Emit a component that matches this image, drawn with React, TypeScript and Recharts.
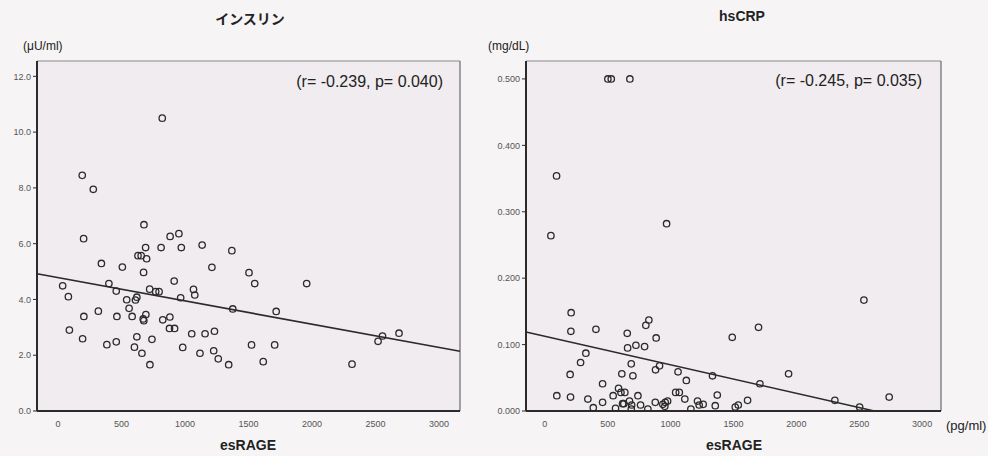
import {
  ScatterChart,
  Scatter,
  XAxis,
  YAxis,
  CartesianGrid,
  ReferenceLine,
} from "recharts";

// esRAGE (pg/ml) vs insulin (μU/ml)
const insulinEsRage = [
  202, 342, 507, 630, 655, 698, 690, 674, 812, 883, 952, 971, 1135, 1212, 1369,
  1504, 1549, 1958, 37, 82, 401, 459, 541, 621, 610, 722, 769, 796, 915, 966,
  1067, 1077, 1376, 1718, 2520, 2555, 2685, 318, 204, 90, 194, 464, 560, 584,
  692, 671, 676, 825, 881, 878, 918, 385, 459, 621, 602, 661, 740, 724, 982,
  1053, 1158, 1232, 1118, 1226, 1262, 1344, 1524, 1706, 1616, 2315, 191, 278,
  821, 677,
];
const insulinValues = [
  6.18, 5.29, 5.16, 5.57, 5.57, 5.46, 5.86, 4.97, 5.86, 6.26, 6.36, 5.86, 5.95,
  5.15, 5.75, 4.96, 4.57, 4.57, 4.49, 4.1, 4.57, 4.3, 3.99, 4.08, 3.98, 4.37,
  4.28, 4.28, 4.66, 4.06, 4.36, 4.16, 3.66, 3.57, 2.5, 2.69, 2.79, 3.58, 3.39,
  2.9, 2.59, 3.39, 3.68, 3.39, 3.46, 3.3, 3.24, 3.27, 3.37, 2.96, 2.96, 2.38,
  2.48, 2.66, 2.29, 2.07, 2.57, 1.66, 2.28, 2.77, 2.77, 2.86, 2.07, 2.16, 1.87,
  1.66, 2.37, 2.37, 1.77, 1.68, 8.45, 7.95, 10.5, 6.68,
];
const insulinFit = [
  { x: -165, y: 4.92 },
  { x: 3165, y: 2.14 },
];

// esRAGE (pg/ml) vs hsCRP (mg/dL)
const crpEsRage = [
  501, 528, 676, 93, 968, 48, 209, 207, 406, 201, 284, 326, 95, 204, 342, 385,
  459, 459, 543, 562, 586, 605, 636, 618, 628, 612, 655, 658, 687, 700, 724,
  793, 803, 827, 885, 880, 912, 673, 690, 687, 740, 761, 819, 878, 938, 957,
  976, 954, 1059, 1040, 1069, 1125, 1113, 1161, 1214, 1227, 1259, 1333, 1371,
  1355, 1490, 1514, 1538, 1612, 1699, 1710, 1938, 2306, 2503, 2537, 2738,
];
const crpValues = [
  0.5, 0.5, 0.5, 0.354, 0.282, 0.264, 0.148, 0.12, 0.123, 0.055, 0.073, 0.087,
  0.023, 0.021, 0.018, 0.005, 0.041, 0.013, 0.023, 0.004, 0.034, 0.028, 0.028,
  0.011, 0.011, 0.056, 0.117, 0.095, 0.071, 0.053, 0.099, 0.097, 0.129, 0.137,
  0.11, 0.062, 0.068, 0.015, 0.009, 0.003, 0.023, 0.009, 0.003, 0.013, 0.01,
  0.013, 0.015, 0.007, 0.059, 0.028, 0.028, 0.046, 0.018, 0.003, 0.015, 0.009,
  0.01, 0.053, 0.024, 0.008, 0.111, 0.006, 0.009, 0.016, 0.126, 0.041, 0.056,
  0.016, 0.006, 0.167, 0.021,
];
const crpFit = [
  { x: -150, y: 0.119 },
  { x: 2620, y: 0 },
];

const xTicks = [0, 500, 1000, 1500, 2000, 2500, 3000];
const insulinTicks = [0, 2, 4, 6, 8, 10, 12];
const crpTicks = [0, 0.1, 0.2, 0.3, 0.4, 0.5];

const PAGE_BG = "#f6f4f5";
const PLOT_BG = "#f0ecef";
const INK = "#2b2b2b";
const SANS = "'Liberation Sans', Arial, sans-serif";
const JP = "'Noto Sans CJK JP', 'Noto Sans', sans-serif";

const tickStyle = { fontSize: 9, fill: "#555", fontFamily: SANS };

function ring(props: any) {
  const { cx, cy } = props;
  return (
    <circle cx={cx} cy={cy} r={3.2} fill="none" stroke={INK} strokeWidth={1.3} />
  );
}

interface PanelProps {
  data: { x: number; y: number }[];
  fit: { x: number; y: number }[];
  xDomain: [number, number];
  yDomain: [number, number];
  yTicks: number[];
  digits: number;
  width: number;
  yWidth: number;
  right: number;
}

function Panel({ data, fit, xDomain, yDomain, yTicks, digits, width, yWidth, right }: PanelProps) {
  return (
    <ScatterChart
      width={width}
      height={456}
      margin={{ top: 61, right, left: 0, bottom: 0 }}
    >
      <CartesianGrid horizontal={false} vertical={false} fill={PLOT_BG} />
      <XAxis
        type="number"
        dataKey="x"
        domain={xDomain}
        ticks={xTicks}
        allowDataOverflow
        height={45}
        tickLine={false}
        tickSize={8}
        axisLine={{ stroke: INK, strokeWidth: 2 }}
        tick={tickStyle}
      />
      <YAxis
        type="number"
        dataKey="y"
        domain={yDomain}
        ticks={yTicks}
        allowDataOverflow
        width={yWidth}
        tickSize={4}
        tickLine={{ stroke: INK }}
        axisLine={{ stroke: INK, strokeWidth: 2 }}
        tickFormatter={(v: number) => v.toFixed(digits)}
        tick={tickStyle}
      />
      <ReferenceLine y={yDomain[1]} stroke="#8a8a8a" strokeWidth={1} />
      <ReferenceLine x={xDomain[1]} stroke="#6a6a6a" strokeWidth={1.2} />
      <ReferenceLine segment={fit} stroke={INK} strokeWidth={1.6} />
      <Scatter data={data} shape={ring} isAnimationActive={false} />
    </ScatterChart>
  );
}

const label = (style: any) => ({
  position: "absolute" as const,
  whiteSpace: "nowrap" as const,
  color: "#222",
  fontFamily: SANS,
  ...style,
});

export default function App() {
  const insulinData = insulinEsRage.map((x, i) => ({ x, y: insulinValues[i] }));
  const crpData = crpEsRage.map((x, i) => ({ x, y: crpValues[i] }));

  return (
    <div
      style={{
        position: "absolute",
        left: 0,
        top: 0,
        width: 988,
        height: 456,
        background: PAGE_BG,
        overflow: "hidden",
      }}
    >
      <div style={{ position: "absolute", left: 0, top: 0 }}>
        <Panel
          data={insulinData}
          fit={insulinFit}
          xDomain={[-165, 3165]}
          yDomain={[0, 12.55]}
          yTicks={insulinTicks}
          digits={1}
          width={470}
          yWidth={37}
          right={10}
        />
      </div>
      <div style={{ position: "absolute", left: 494, top: 0 }}>
        <Panel
          data={crpData}
          fit={crpFit}
          xDomain={[-150, 3150]}
          yDomain={[0, 0.527]}
          yTicks={crpTicks}
          digits={3}
          width={494}
          yWidth={32}
          right={47}
        />
      </div>

      <div style={label({ left: 250, top: 8, transform: "translateX(-50%)", fontFamily: JP, fontWeight: 700, fontSize: 14 })}>
        インスリン
      </div>
      <div style={label({ left: 742, top: 8, transform: "translateX(-50%)", fontWeight: 700, fontSize: 14 })}>
        hsCRP
      </div>
      <div style={label({ left: 23, top: 39, fontSize: 12 })}>(μU/ml)</div>
      <div style={label({ left: 488, top: 39, fontSize: 12 })}>(mg/dL)</div>
      <div style={label({ right: 988 - 443, top: 73, fontSize: 16 })}>
        (r= -0.239, p= 0.040)
      </div>
      <div style={label({ right: 988 - 922, top: 72, fontSize: 16 })}>
        (r= -0.245, p= 0.035)
      </div>
      <div style={label({ left: 248, top: 437, transform: "translateX(-50%)", fontWeight: 700, fontSize: 14 })}>
        esRAGE
      </div>
      <div style={label({ left: 734, top: 437, transform: "translateX(-50%)", fontWeight: 700, fontSize: 14 })}>
        esRAGE
      </div>
      <div style={label({ left: 946, top: 418, fontSize: 13 })}>(pg/ml)</div>
    </div>
  );
}
